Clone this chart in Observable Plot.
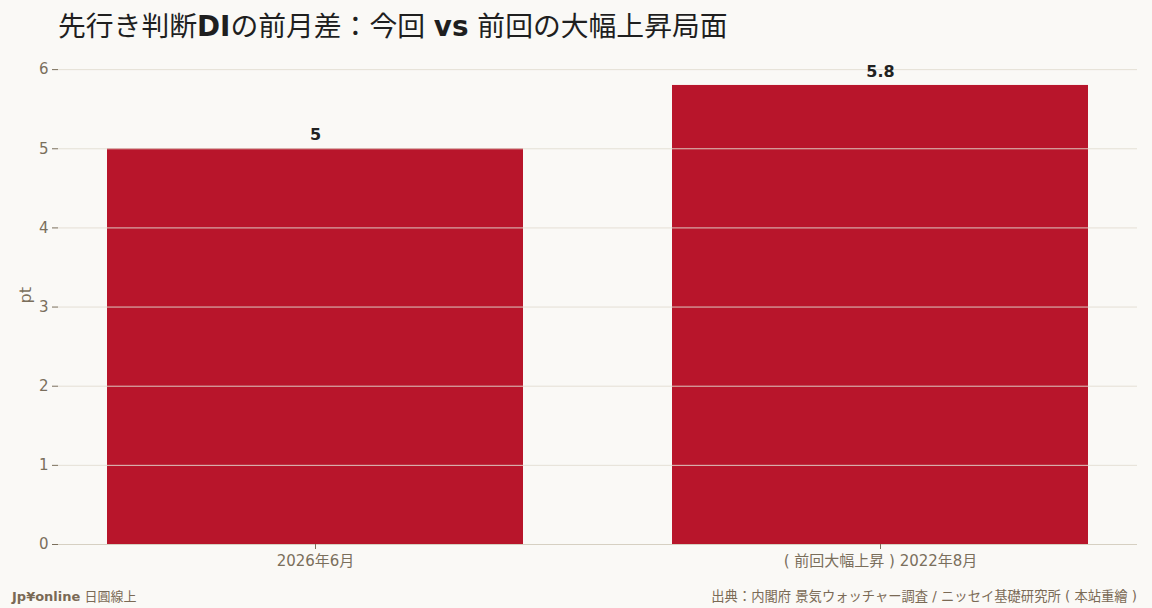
<!DOCTYPE html>
<html>
<head>
<meta charset="utf-8">
<script src="https://cdn.jsdelivr.net/npm/d3@7"></script>
<script src="https://cdn.jsdelivr.net/npm/@observablehq/plot@0.6"></script>
<style>
  html, body { margin: 0; padding: 0; background: #faf9f6; }
  body { width: 1152px; height: 608px; overflow: hidden; font-family: "DejaVu Sans", "Noto Sans CJK JP", sans-serif; }
  #title { height: 50px; box-sizing: border-box; padding-left: 58px; padding-top: 8px; font-size: 27.8px; font-weight: normal; color: #1f1f1f; line-height: 38px; white-space: nowrap; }
  #title b { font-weight: bold; }
  #chart { height: 530px; }
  #footer { position: relative; height: 28px; font-size: 13px; color: #7a6a55; }
  #footer .left { position: absolute; left: 12px; top: 6px; }
  #footer .right { position: absolute; right: 15px; top: 6px; font-size: 13.3px; }
</style>
</head>
<body>
<div id="title">先行き判断<b>DI</b>の前月差：今回 <b>vs</b> 前回の大幅上昇局面</div>
<div id="chart"></div>
<div id="footer">
  <span class="left"><b>Jp¥online</b> 日圓線上</span>
  <span class="right">出典：内閣府 景気ウォッチャー調査 / ニッセイ基礎研究所 ( 本站重繪 )</span>
</div>
<script>
const categories = ["2026年6月", "( 前回大幅上昇 ) 2022年8月"];
const values = [5, 5.8];
const yTicks = [0, 1, 2, 3, 4, 5, 6];
const yLabel = "pt";

const data = categories.map((c, i) => ({category: c, value: values[i]}));

const tickColor = "#7a6f5c";
const chart = Plot.plot({
  width: 1152,
  height: 530,
  marginTop: 12,
  marginBottom: 36,
  marginLeft: 58,
  marginRight: 15,
  style: {background: "transparent", fontFamily: "'DejaVu Sans', 'Noto Sans CJK JP', sans-serif", fontSize: "15px", color: tickColor},
  x: {domain: categories, paddingInner: 0.264, paddingOuter: 0.0867, label: null},
  y: {domain: [0, 5.8 * 1.05], ticks: yTicks, label: null},
  marks: [
    Plot.barY(data, {x: "category", y: "value", fill: "#b8152b"}),
    Plot.gridY(yTicks, {stroke: "#e2ddd2", strokeOpacity: 0.9}),
    Plot.ruleX([0], {frameAnchor: "left", stroke: "#d6d0c2"}),
    Plot.ruleY([0], {stroke: "#d6d0c2"}),
    Plot.axisY({ticks: yTicks, tickFormat: "d", tickSize: 6, tickPadding: 4, fontSize: 15, label: null, color: tickColor}),
    Plot.axisX({tickSize: 5, tickPadding: 6, fontSize: 15, label: null, color: tickColor}),
    Plot.text([yLabel], {frameAnchor: "left", rotate: -90, dx: -33, text: d => d, fontSize: 16, fill: tickColor}),
    Plot.text(data, {x: "category", y: "value", text: d => String(d.value), dy: -14, fontWeight: "bold", fontSize: 16, fill: "#222"})
  ]
});
document.getElementById("chart").appendChild(chart);
</script>
</body>
</html>
